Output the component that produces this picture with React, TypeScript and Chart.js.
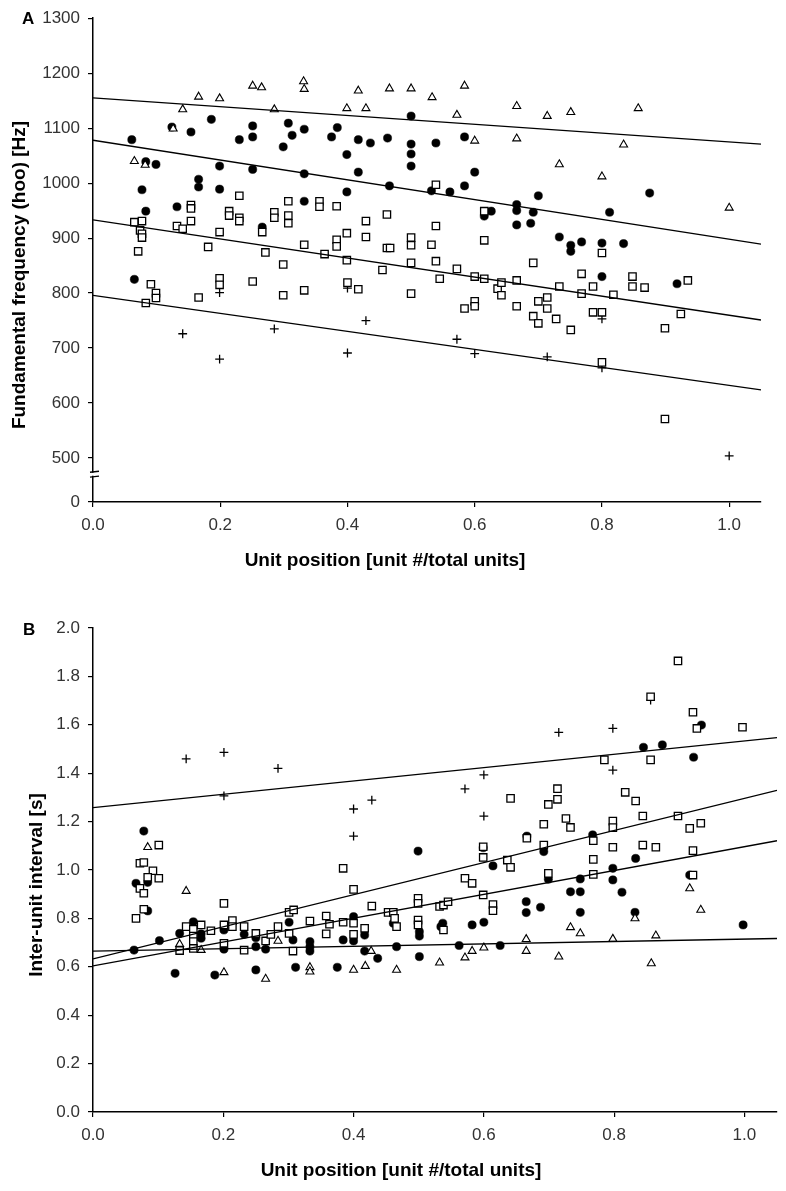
import React, { useEffect, useRef } from "react";
import { Chart, registerables } from "chart.js";
Chart.register(...registerables);

const FONT = '"Liberation Sans", Arial, Helvetica, sans-serif';

// ---------- Panel A: fundamental frequency ----------
const aXTicks = [0, 0.2, 0.4, 0.6, 0.8, 1.0];
const aYTicks = [420, 500, 600, 700, 800, 900, 1000, 1100, 1200, 1300]; // 420 is shown as "0" (axis break)
const aYBreak = [466, 475];

const aTriangles: [number, number][] = [
  [0.065, 1040], [0.082, 1033], [0.126, 1099], [0.141, 1134], [0.166, 1157], [0.199, 1154],
  [0.251, 1177], [0.265, 1174], [0.285, 1134], [0.331, 1185], [0.332, 1171], [0.399, 1136],
  [0.417, 1168], [0.429, 1136], [0.466, 1172], [0.5, 1172], [0.533, 1156], [0.584, 1177],
  [0.572, 1124], [0.6, 1077], [0.666, 1140], [0.666, 1081], [0.714, 1122], [0.751, 1129],
  [0.733, 1034], [0.8, 1012], [0.834, 1070], [0.857, 1136], [1.0, 955],
];
const aCircles: [number, number][] = [
  [0.061, 1079], [0.083, 1039], [0.099, 1034], [0.077, 988], [0.083, 949], [0.124, 1102],
  [0.132, 957], [0.154, 1093], [0.166, 1007], [0.166, 993], [0.186, 1116], [0.199, 1031],
  [0.199, 989], [0.23, 1079], [0.251, 1104], [0.251, 1084], [0.251, 1025], [0.266, 920],
  [0.299, 1066], [0.307, 1109], [0.313, 1087], [0.332, 1098], [0.332, 1017], [0.332, 967],
  [0.375, 1084], [0.384, 1101], [0.399, 1052], [0.399, 984], [0.417, 1079], [0.417, 1020],
  [0.436, 1073], [0.463, 1082], [0.466, 995], [0.5, 1122], [0.5, 1071], [0.5, 1053],
  [0.5, 1031], [0.539, 1073], [0.584, 1084], [0.6, 1020], [0.532, 986], [0.561, 984],
  [0.584, 995], [0.615, 940], [0.626, 949], [0.666, 961], [0.666, 950], [0.692, 947],
  [0.7, 977], [0.666, 924], [0.688, 927], [0.733, 902], [0.751, 887], [0.751, 876],
  [0.768, 893], [0.8, 891], [0.834, 890], [0.812, 947], [0.875, 982], [0.065, 825],
  [0.8, 830], [0.918, 817],
];
const aSquares: [number, number][] = [
  [0.065, 929], [0.077, 931], [0.074, 914], [0.077, 908], [0.077, 901], [0.071, 876],
  [0.132, 922], [0.141, 917], [0.154, 960], [0.154, 954], [0.154, 931], [0.181, 884],
  [0.199, 911], [0.23, 977], [0.214, 949], [0.214, 941], [0.23, 937], [0.23, 931],
  [0.271, 874], [0.266, 911], [0.285, 947], [0.285, 937], [0.299, 852], [0.307, 967],
  [0.307, 941], [0.307, 927], [0.332, 888], [0.356, 967], [0.356, 957], [0.364, 871],
  [0.383, 958], [0.383, 897], [0.383, 885], [0.399, 909], [0.399, 860], [0.429, 931],
  [0.429, 902], [0.462, 943], [0.462, 882], [0.467, 882], [0.455, 842],
  [0.091, 816], [0.083, 782], [0.099, 800], [0.099, 791], [0.166, 792], [0.199, 827],
  [0.199, 815], [0.251, 821], [0.299, 796], [0.332, 805], [0.4, 819], [0.417, 807],
  [0.5, 799], [0.5, 855], [0.539, 858], [0.545, 826], [0.572, 844], [0.6, 830],
  [0.615, 826], [0.636, 808], [0.642, 819], [0.642, 796], [0.666, 823], [0.666, 776],
  [0.692, 855], [0.692, 758], [0.7, 785], [0.7, 745], [0.714, 792], [0.714, 772],
  [0.728, 753], [0.733, 812], [0.751, 733], [0.768, 835], [0.768, 799], [0.786, 812],
  [0.786, 765], [0.8, 765], [0.8, 674], [0.818, 797], [0.848, 830], [0.848, 812],
  [0.867, 810], [0.899, 736], [0.899, 571], [0.924, 762], [0.935, 823], [0.6, 785],
  [0.6, 776], [0.584, 772],
  [0.539, 997], [0.539, 922], [0.5, 901], [0.5, 887], [0.532, 888], [0.615, 896],
  [0.615, 949], [0.8, 873],
];
const aPluses: [number, number][] = [
  [0.141, 726], [0.199, 801], [0.199, 680], [0.285, 735], [0.4, 809], [0.4, 691],
  [0.429, 750], [0.572, 716], [0.6, 780], [0.6, 690], [0.714, 684], [0.8, 753],
  [0.8, 664], [1.0, 504],
];
const fitX = [0, 1.05];
const aTriFit = [1155, 1071];
const aCircFit = [1078, 889];
const aSqFit = [933, 751];
const aPlusFit = [796, 624];

// ---------- Panel B: inter-unit interval ----------
const bXTicks = [0, 0.2, 0.4, 0.6, 0.8, 1.0];
const bYTicks = [0, 0.2, 0.4, 0.6, 0.8, 1.0, 1.2, 1.4, 1.6, 1.8, 2.0];

const bTriangles: [number, number][] = [
  [0.084, 1.094], [0.143, 0.913], [0.133, 0.694], [0.166, 0.669], [0.201, 0.577], [0.265, 0.55],
  [0.284, 0.707], [0.333, 0.598], [0.333, 0.58], [0.4, 0.587], [0.418, 0.603], [0.427, 0.665],
  [0.466, 0.587], [0.532, 0.617], [0.571, 0.638], [0.582, 0.665], [0.6, 0.679], [0.665, 0.665],
  [0.665, 0.714], [0.715, 0.642], [0.733, 0.763], [0.748, 0.738], [0.798, 0.715], [0.832, 0.8],
  [0.857, 0.614], [0.864, 0.729], [0.916, 0.924], [0.933, 0.835],
];
const bCircles: [number, number][] = [
  [0.078, 1.161], [0.066, 0.945], [0.084, 0.949], [0.084, 0.831], [0.063, 0.669], [0.102, 0.708],
  [0.126, 0.573], [0.133, 0.738], [0.154, 0.786], [0.166, 0.736], [0.166, 0.718], [0.187, 0.566],
  [0.201, 0.752], [0.201, 0.673], [0.232, 0.734], [0.25, 0.72], [0.25, 0.683], [0.25, 0.587],
  [0.265, 0.673], [0.301, 0.784], [0.307, 0.711], [0.311, 0.598], [0.333, 0.704], [0.333, 0.683],
  [0.333, 0.665], [0.375, 0.598], [0.384, 0.711], [0.4, 0.807], [0.4, 0.707], [0.417, 0.731],
  [0.417, 0.665], [0.437, 0.635], [0.466, 0.683], [0.461, 0.78], [0.501, 0.642], [0.501, 0.745],
  [0.501, 0.727], [0.534, 0.766], [0.537, 0.78], [0.562, 0.688], [0.582, 0.773], [0.6, 0.784],
  [0.625, 0.688], [0.665, 0.869], [0.665, 0.824], [0.687, 0.846], [0.733, 0.91], [0.748, 0.91],
  [0.748, 0.825], [0.812, 0.908], [0.832, 0.825], [0.998, 0.773], [0.767, 1.145], [0.833, 1.048],
  [0.798, 1.007], [0.798, 0.959], [0.748, 0.963], [0.916, 0.979], [0.699, 0.962], [0.845, 1.507],
  [0.874, 1.517], [0.934, 1.599], [0.922, 1.466], [0.499, 1.078], [0.599, 1.092], [0.614, 1.017],
  [0.666, 1.14], [0.692, 1.076],
];
const bSquares: [number, number][] = [
  [0.101, 1.103], [0.072, 1.028], [0.078, 1.031], [0.092, 0.997], [0.084, 0.97], [0.101, 0.966],
  [0.072, 0.924], [0.078, 0.904], [0.066, 0.8], [0.078, 0.838], [0.384, 1.007], [0.4, 0.92],
  [0.143, 0.766], [0.154, 0.755], [0.154, 0.727], [0.154, 0.704], [0.154, 0.676], [0.133, 0.667],
  [0.166, 0.773], [0.181, 0.749], [0.201, 0.773], [0.201, 0.862], [0.201, 0.697], [0.214, 0.791],
  [0.214, 0.766], [0.232, 0.766], [0.232, 0.669], [0.25, 0.738], [0.265, 0.707], [0.273, 0.734],
  [0.284, 0.766], [0.301, 0.825], [0.308, 0.835], [0.301, 0.738], [0.307, 0.665], [0.333, 0.789],
  [0.358, 0.81], [0.358, 0.736], [0.363, 0.776], [0.384, 0.784], [0.4, 0.78], [0.4, 0.734],
  [0.417, 0.759], [0.428, 0.851], [0.453, 0.825], [0.461, 0.825], [0.463, 0.8], [0.466, 0.766],
  [0.499, 0.883], [0.499, 0.862], [0.499, 0.793], [0.499, 0.773], [0.532, 0.849], [0.538, 0.855],
  [0.545, 0.869], [0.538, 0.752], [0.571, 0.966], [0.582, 0.945], [0.599, 0.897], [0.599, 1.052],
  [0.599, 1.096], [0.614, 0.857], [0.614, 0.832], [0.636, 1.041], [0.641, 1.011], [0.641, 1.296],
  [0.666, 1.131], [0.692, 1.189], [0.692, 1.103], [0.699, 0.986], [0.699, 1.271], [0.713, 1.336],
  [0.713, 1.292],
  [0.898, 1.864], [0.856, 1.716], [0.921, 1.652], [0.927, 1.585], [0.997, 1.59], [0.785, 1.455],
  [0.856, 1.455], [0.817, 1.321], [0.833, 1.285], [0.726, 1.213], [0.733, 1.176], [0.798, 1.202],
  [0.798, 1.175], [0.844, 1.223], [0.898, 1.223], [0.916, 1.172], [0.933, 1.193], [0.768, 1.121],
  [0.798, 1.094], [0.844, 1.103], [0.864, 1.094], [0.768, 1.044], [0.921, 1.08], [0.768, 0.982],
  [0.921, 0.979],
];
const bPluses: [number, number][] = [
  [0.143, 1.459], [0.201, 1.486], [0.201, 1.306], [0.284, 1.42], [0.4, 1.252], [0.428, 1.289],
  [0.4, 1.14], [0.715, 1.569], [0.798, 1.585], [0.798, 1.413], [0.856, 1.702], [0.6, 1.393],
  [0.571, 1.335], [0.6, 1.223],
];
const bTriFit = [0.665, 0.717];
const bCircFit = [0.604, 1.121];
const bSqFit = [0.633, 1.329];
const bPlusFit = [1.258, 1.547];

// ---------- helpers ----------
const pts = (arr: [number, number][]) => arr.map(([x, y]) => ({ x, y }));
const fitPts = (ys: number[]) => fitX.map((x, i) => ({ x, y: ys[i] }));

function markerSets(tri: [number, number][], circ: [number, number][], sq: [number, number][], plus: [number, number][]) {
  return [
    { data: pts(sq), pointStyle: "rect", pointRadius: 5.2, borderColor: "#000", backgroundColor: "#fff", borderWidth: 1.3, showLine: false },
    { data: pts(tri), pointStyle: "triangle", pointRadius: 4.6, borderColor: "#000", backgroundColor: "#fff", borderWidth: 1.1, showLine: false },
    { data: pts(circ), pointStyle: "circle", pointRadius: 4.1, borderColor: "#000", backgroundColor: "#000", borderWidth: 0.5, showLine: false },
    { data: pts(plus), pointStyle: "cross", pointRadius: 4.4, borderColor: "#000", backgroundColor: "#000", borderWidth: 1.3, showLine: false },
  ];
}
function fitSets(fits: number[][]) {
  return fits.map((f) => ({
    data: fitPts(f),
    showLine: true,
    pointRadius: 0,
    borderColor: "#000",
    borderWidth: 1.3,
    fill: false,
  }));
}

type Deco = {
  letter: string; lx: number; ly: number;
  xTitle: string; xtx: number; xty: number;
  yTitle: string; ytx: number; yty: number;
  brk?: number[];
};

function decoPlugin(d: Deco) {
  return {
    id: "deco",
    afterDraw(chart: any) {
      const ctx = chart.ctx as CanvasRenderingContext2D;
      ctx.save();
      if (d.brk) {
        const ys = chart.scales.y;
        const x0 = chart.chartArea.left;
        const p1 = ys.getPixelForValue(d.brk[1]);
        const p0 = ys.getPixelForValue(d.brk[0]);
        ctx.fillStyle = "#fff";
        ctx.fillRect(x0 - 3, p1 + 1, 6, p0 - p1 - 2);
        ctx.strokeStyle = "#000";
        ctx.lineWidth = 1.3;
        ctx.beginPath();
        ctx.moveTo(x0 - 3, p1 + 0.5); ctx.lineTo(x0 + 6, p1 - 0.5);
        ctx.moveTo(x0 - 3, p0 + 0.5); ctx.lineTo(x0 + 6, p0 - 0.5);
        ctx.stroke();
      }
      ctx.fillStyle = "#000";
      ctx.textBaseline = "alphabetic";
      ctx.font = `bold 17px ${FONT}`;
      ctx.textAlign = "left";
      ctx.fillText(d.letter, d.lx, d.ly);
      ctx.font = `bold 19px ${FONT}`;
      ctx.textAlign = "center";
      ctx.fillText(d.xTitle, d.xtx, d.xty);
      ctx.translate(d.ytx, d.yty);
      ctx.rotate(-Math.PI / 2);
      ctx.fillText(d.yTitle, 0, 0);
      ctx.restore();
    },
  };
}

function axisCommon() {
  return {
    type: "linear" as const,
    grid: { display: true, drawOnChartArea: false, drawTicks: true, tickLength: 5, color: "#000", lineWidth: 1.2 },
    border: { display: true, color: "#000", width: 1.5 },
  };
}

function buildConfig(opts: {
  datasets: any[]; xTicks: number[]; yTicks: number[]; yMin: number; yMax: number;
  yLabel: (v: number) => string; padding: any; xHeight: number; deco: Deco;
}) {
  return {
    type: "scatter" as const,
    data: { datasets: opts.datasets },
    options: {
      animation: false as const,
      responsive: false,
      events: [],
      layout: { padding: opts.padding },
      plugins: { legend: { display: false }, tooltip: { enabled: false } },
      scales: {
        x: {
          ...axisCommon(),
          min: 0,
          max: 1.05,
          afterBuildTicks: (s: any) => { s.ticks = opts.xTicks.map((v) => ({ value: v })); },
          afterFit: (s: any) => { s.height = opts.xHeight; },
          ticks: {
            callback: (v: any) => Number(v).toFixed(1),
            font: { family: FONT, size: 17 },
            color: "#333",
            padding: 8,
            maxRotation: 0,
            autoSkip: false,
          },
        },
        y: {
          ...axisCommon(),
          min: opts.yMin,
          max: opts.yMax,
          afterBuildTicks: (s: any) => { s.ticks = opts.yTicks.map((v) => ({ value: v })); },
          afterFit: (s: any) => { s.width = 93; },
          ticks: {
            callback: (v: any) => opts.yLabel(Number(v)),
            font: { family: FONT, size: 17 },
            color: "#333",
            padding: 8,
            autoSkip: false,
          },
        },
      },
    },
    plugins: [decoPlugin(opts.deco)],
  };
}

export default function App() {
  const refA = useRef<HTMLCanvasElement | null>(null);
  const refB = useRef<HTMLCanvasElement | null>(null);

  useEffect(() => {
    const chartA = new Chart(refA.current as HTMLCanvasElement, buildConfig({
      datasets: [...fitSets([aTriFit, aCircFit, aSqFit, aPlusFit]), ...markerSets(aTriangles, aCircles, aSquares, aPluses)],
      xTicks: aXTicks,
      yTicks: aYTicks,
      yMin: 420,
      yMax: 1300,
      yLabel: (v) => (v === 420 ? "0" : String(v)),
      padding: { top: 17, right: 25, left: 0, bottom: 0 },
      xHeight: 93,
      deco: {
        letter: "A", lx: 22, ly: 24,
        xTitle: "Unit position [unit #/total units]", xtx: 385, xty: 566,
        yTitle: "Fundamental frequency (hoo) [Hz]", ytx: 25, yty: 275,
        brk: aYBreak,
      },
    }) as any);

    const chartB = new Chart(refB.current as HTMLCanvasElement, buildConfig({
      datasets: [...fitSets([bTriFit, bCircFit, bSqFit, bPlusFit]), ...markerSets(bTriangles, bCircles, bSquares, bPluses)],
      xTicks: bXTicks,
      yTicks: bYTicks,
      yMin: 0,
      yMax: 2.0,
      yLabel: (v) => v.toFixed(1),
      padding: { top: 33, right: 9, left: 0, bottom: 0 },
      xHeight: 79,
      deco: {
        letter: "B", lx: 23, ly: 40,
        xTitle: "Unit position [unit #/total units]", xtx: 401, xty: 581,
        yTitle: "Inter-unit interval [s]", ytx: 42, yty: 290,
      },
    }) as any);

    return () => {
      chartA.destroy();
      chartB.destroy();
    };
  }, []);

  return (
    <div style={{ position: "absolute", left: 0, top: 0, width: 786, height: 1191, background: "#fff" }}>
      <canvas ref={refA} width={786} height={595} style={{ position: "absolute", left: 0, top: 0, width: 786, height: 595 }} />
      <canvas ref={refB} width={786} height={596} style={{ position: "absolute", left: 0, top: 595, width: 786, height: 596 }} />
    </div>
  );
}
